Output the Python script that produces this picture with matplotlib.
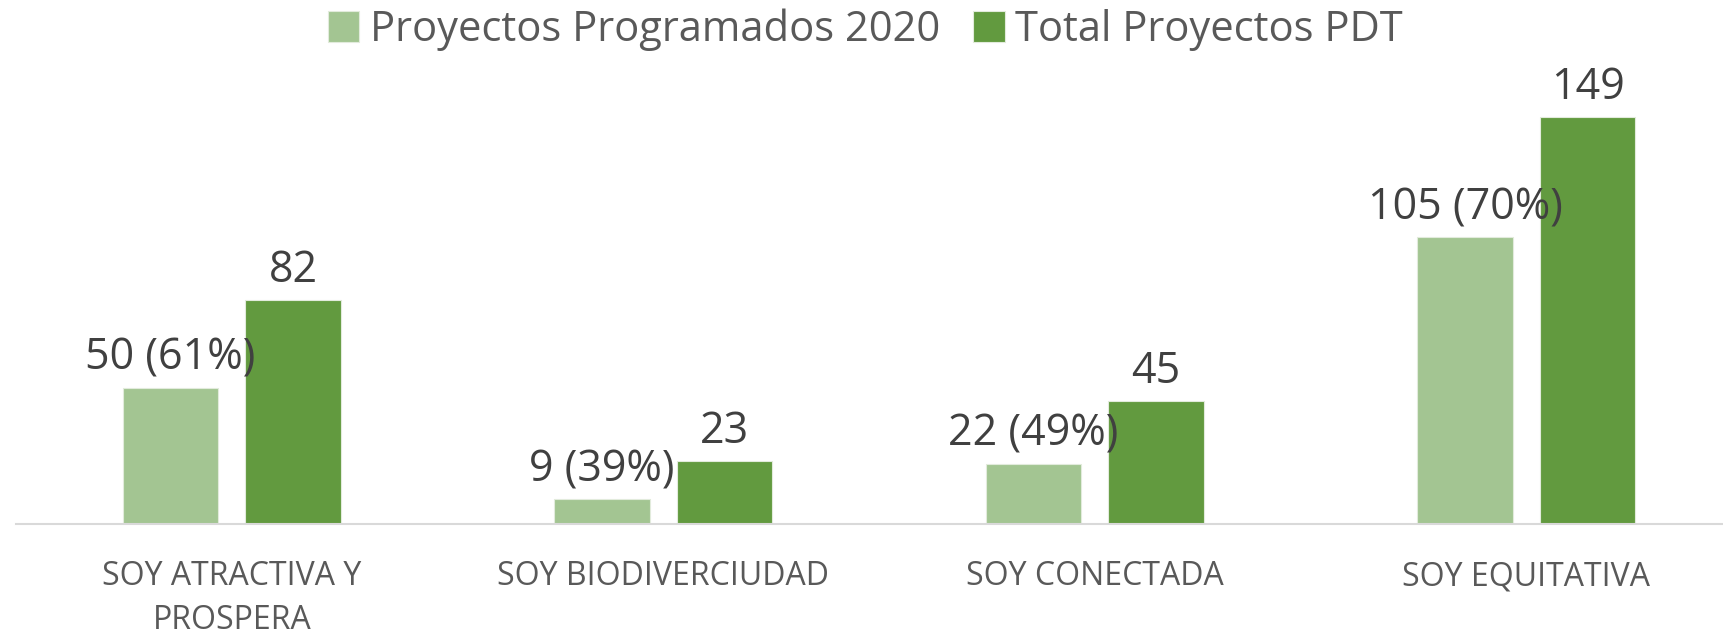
import numpy as np
import matplotlib
matplotlib.use('Agg')
import matplotlib.pyplot as plt

plt.rcParams['font.family'] = ['Open Sans', 'DejaVu Sans']

categories = ['SOY ATRACTIVA Y\nPROSPERA', 'SOY BIODIVERCIUDAD', 'SOY CONECTADA', 'SOY EQUITATIVA']
programados = [50, 9, 22, 105]
total_pdt = [82, 23, 45, 149]
series_names = ['Proyectos Programados 2020', 'Total Proyectos PDT']

light_green = '#A3C592'
dark_green = '#629A3F'

fig = plt.figure(figsize=(17.24, 6.34), dpi=100)
W, H = 1724, 634
# axes placed so 1 category = 431.5 px, baseline at y=524 px from top
ax = fig.add_axes([16 / W, 110 / H, 4 * 431.5 / W, 180 * 2.73 / H])

x = np.arange(len(categories))
width = 0.222
off = 0.142
b1 = ax.bar(x - off, programados, width, color=light_green, edgecolor='#E2EBDC', linewidth=0.8,
            label=series_names[0])
b2 = ax.bar(x + off, total_pdt, width, color=dark_green, edgecolor='#E2EBDC', linewidth=0.8,
            label=series_names[1])

for i, v in enumerate(programados):
    pct = round(100 * v / total_pdt[i])
    ax.annotate('%d (%d%%)' % (v, pct), (x[i] - off, v), xytext=(0, 5), textcoords='offset points',
                ha='center', va='bottom', fontsize=31, color='#404040')
for i, v in enumerate(total_pdt):
    ax.annotate(str(v), (x[i] + off, v), xytext=(0, 5), textcoords='offset points',
                ha='center', va='bottom', fontsize=31, color='#404040')

ax.set_xlim(-0.5, 3.5)
ax.set_ylim(0, 180)
ax.set_xticks(x)
ax.set_xticklabels(categories, fontsize=23, color='#595959', linespacing=1.45)
ax.tick_params(axis='x', length=0, pad=26)
ax.set_yticks([])
for s in ['top', 'right', 'left']:
    ax.spines[s].set_visible(False)
ax.spines['bottom'].set_color('#D9D9D9')
ax.spines['bottom'].set_linewidth(1.5)

fig.legend(handles=[b1, b2], loc='center', bbox_to_anchor=(0.502, 1 - 30 / H), ncol=2, frameon=False,
           fontsize=30, labelcolor='#595959', handlelength=0.75, handleheight=0.75,
           handletextpad=0.25, columnspacing=0.8, borderpad=0)

fig.savefig('out.png', dpi=100)
